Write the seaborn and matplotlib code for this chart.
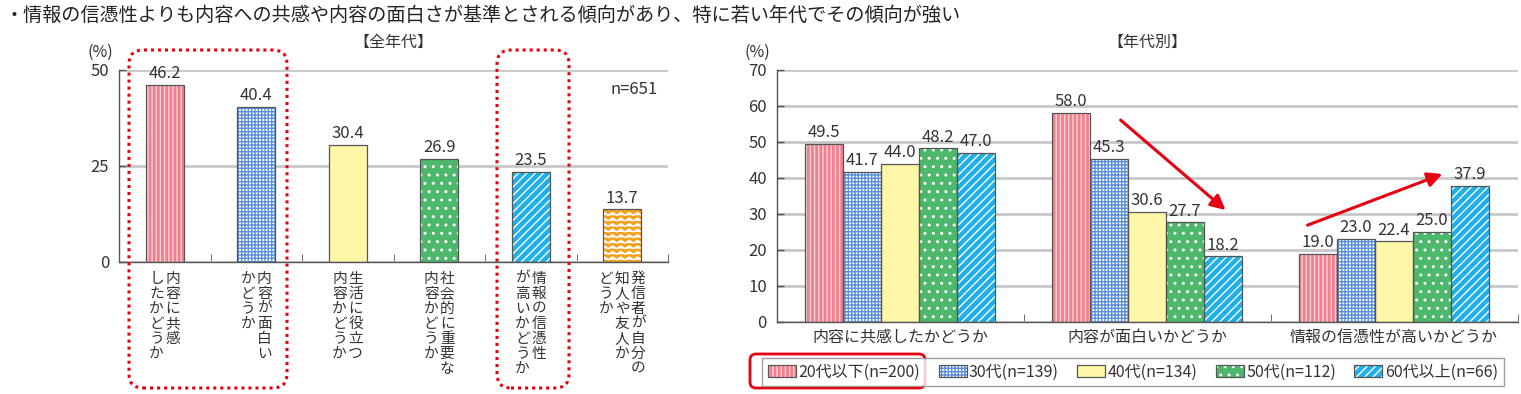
import numpy as np
import pandas as pd
import matplotlib
matplotlib.use("Agg")
import matplotlib.pyplot as plt
import matplotlib.hatch as mhatch
from matplotlib.patches import Rectangle, Patch, FancyBboxPatch
from matplotlib.legend_handler import HandlerTuple
from matplotlib.transforms import blended_transform_factory, offset_copy, IdentityTransform
import seaborn as sns


# --- data -------------------------------------------------------------
title = "・情報の信憑性よりも内容への共感や内容の面白さが基準とされる傾向があり、特に若い年代でその傾向が強い"

# left: all ages (n=651); "\n" separates the vertical text columns (right to left)
all_labels = ["内容に共感\nしたかどうか", "内容が面白い\nかどうか", "生活に役立つ\n内容かどうか",
              "社会的に重要な\n内容かどうか", "情報の信憑性\nが高いかどうか",
              "発信者が自分の\n知人や友人か\nどうか"]
all_values = [46.2, 40.4, 30.4, 26.9, 23.5, 13.7]

# right: by age group
questions = ["内容に共感したかどうか", "内容が面白いかどうか", "情報の信憑性が高いかどうか"]
ages = ["20代以下(n=200)", "30代(n=139)", "40代(n=134)", "50代(n=112)", "60代以上(n=66)"]
v_20s = [49.5, 58.0, 19.0]
v_30s = [41.7, 45.3, 23.0]
v_40s = [44.0, 30.6, 22.4]
v_50s = [48.2, 27.7, 25.0]
v_60s = [47.0, 18.2, 37.9]


# zigzag hatch, used in place of the star pattern ("*")
class Zigzag(mhatch.HatchPatternBase):
    def __init__(self, hatch, density):
        self.num_lines = int(hatch.count('*') * density)
        self.teeth = max(1, self.num_lines * 2 // 3)
        self.num_vertices = self.num_lines * (2 * self.teeth + 1)

    def set_vertices_and_codes(self, vertices, codes):
        n = 2 * self.teeth + 1
        xs = np.linspace(0, 1, n)
        amp = 0.5 / self.num_lines
        for i in range(self.num_lines):
            y0 = (i + 0.25) / self.num_lines
            ys = y0 + amp * (np.arange(n) % 2)
            vertices[i * n:(i + 1) * n, 0] = xs
            vertices[i * n:(i + 1) * n, 1] = ys
            codes[i * n] = matplotlib.path.Path.MOVETO
            codes[i * n + 1:(i + 1) * n] = matplotlib.path.Path.LINETO


mhatch._hatch_types = [h for h in mhatch._hatch_types if h is not mhatch.Stars] + [Zigzag]

# (facecolor, hatch, hatch colour)
styles = [("#f0808d", "||||", "#fcd2d7"),
          ("#ffffff", "+++++", "#5b90d8"),
          ("#fff7a8", None, "#fff7a8"),
          ("#4db86b", "..", "#ffffff"),
          ("#1eb0ea", "////", "#ffffff"),
          ("#f6a11c", "***", "#ffffff")]

red = "#e60012"
ink = "#333333"

sns.set_style("white")
plt.rcParams['font.family'] = ['Noto Sans CJK JP', 'DejaVu Sans']
plt.rcParams['hatch.linewidth'] = 1.0

fig = plt.figure(figsize=(15.21, 3.94), dpi=100)
W, H = 1521, 394
ax1 = fig.add_axes([119 / W, 1 - 262 / H, 549 / W, 192 / H])
ax2 = fig.add_axes([776.5 / W, 1 - 322 / H, 741 / W, 252 / H])


def dress(ax, bar, st):
    fc, hatch, hc = st
    bar.set_facecolor(fc)
    bar.set_edgecolor(hc)
    bar.set_hatch(hatch)
    bar.set_linewidth(0)
    ax.add_patch(Rectangle(bar.get_xy(), bar.get_width(), bar.get_height(),
                           fill=False, ec="#555555", lw=0.9, zorder=bar.get_zorder() + 0.1))


def frame(ax, top, step):
    ax.set_ylim(0, top)
    ax.set_yticks(np.arange(0, top + 1, step))
    ax.set_axisbelow(True)
    ax.yaxis.grid(True, color="#c8c8c8", lw=2)
    ax.xaxis.grid(False)
    for s in ["top", "right"]:
        ax.spines[s].set_visible(False)
    for s in ["left", "bottom"]:
        ax.spines[s].set_color("#555555")
        ax.spines[s].set_linewidth(1)
    ax.tick_params(axis="y", direction="in", length=5, width=1, color="#555555",
                   labelsize=12, labelcolor=ink, pad=7, left=True)
    ax.set_xlabel("")
    ax.set_ylabel("")


# --- left chart -------------------------------------------------------
sns.barplot(x=list(range(len(all_values))), y=all_values, hue=list(range(len(all_values))),
            palette=[s[0] for s in styles], width=0.415, saturation=1, legend=False, ax=ax1)
for cont, st in zip(ax1.containers, styles):
    for bar in cont:
        dress(ax1, bar, st)
    ax1.bar_label(cont, fmt="%.1f", padding=2, fontsize=12, color=ink)
frame(ax1, 50, 25)
ax1.set_xlim(-0.5, len(all_values) - 0.5)
ax1.set_xticks(np.arange(0.5, len(all_values), 1), minor=True)
ax1.tick_params(axis="x", which="minor", direction="in", length=6, color="#555555", bottom=True)
ax1.tick_params(axis="x", which="major", length=0, labelbottom=False)

base = blended_transform_factory(ax1.transData, ax1.transAxes)
for i, lab in enumerate(all_labels):
    cols = lab.split("\n")
    n = len(cols)
    for j, col in enumerate(cols):
        dx = ((n - 1) / 2 - j) * 16
        for k, ch in enumerate(col):
            tr = offset_copy(base, fig=fig, x=dx, y=-(17 + 15 * k), units="dots")
            ax1.text(i, 0, ch, transform=tr, ha="center", va="center", fontsize=10.6, color=ink)

fig.text(393 / W, 1 - 42 / H, "【全年代】", ha="center", va="center", fontsize=11.5, color=ink)
fig.text(100 / W, 1 - 52 / H, "(%)", ha="center", va="center", fontsize=11.5, color=ink)
fig.text(634 / W, 1 - 90 / H, "n=651", ha="center", va="center", fontsize=12, color=ink)

# --- right chart ------------------------------------------------------
df = pd.DataFrame({
    "question": questions * len(ages),
    "age": np.repeat(ages, len(questions)),
    "value": v_20s + v_30s + v_40s + v_50s + v_60s,
})
sns.barplot(data=df, x="question", y="value", hue="age", palette=[s[0] for s in styles[:5]],
            width=0.77, saturation=1, ax=ax2)
ax2.get_legend().remove()
for cont, st in zip(ax2.containers, styles):
    for bar in cont:
        dress(ax2, bar, st)
    ax2.bar_label(cont, fmt="%.1f", padding=2, fontsize=12, color=ink)
frame(ax2, 70, 10)
ax2.set_xlim(-0.5, len(questions) - 0.5)
ax2.set_xticks(np.arange(0.5, len(questions), 1), minor=True)
ax2.tick_params(axis="x", which="minor", direction="in", length=6, color="#555555", bottom=True)
ax2.tick_params(axis="x", which="major", length=0, labelsize=11.5, labelcolor=ink, pad=5)

fig.text(1147 / W, 1 - 42 / H, "【年代別】", ha="center", va="center", fontsize=11.5, color=ink)
fig.text(757 / W, 1 - 52 / H, "(%)", ha="center", va="center", fontsize=11.5, color=ink)

arrow = dict(arrowstyle="-|>", color=red, lw=2.2, mutation_scale=22, shrinkA=0, shrinkB=0)
ax2.annotate("", xy=(1.318, 31.1), xytext=(0.893, 56.1), arrowprops=arrow)
ax2.annotate("", xy=(2.196, 41.1), xytext=(1.650, 26.9), arrowprops=arrow)

handles = [(Patch(fc=s[0], ec=s[2], hatch=s[1], lw=0), Patch(fill=False, ec="#555555", lw=0.9))
           for s in styles[:5]]
fig.legend(handles, ages, handler_map={tuple: HandlerTuple(ndivide=1, pad=0)},
           loc="center", bbox_to_anchor=(1133 / W, 1 - 372 / H), ncol=5, fontsize=11.5,
           frameon=True, fancybox=False, edgecolor="#888888", handlelength=1.75, handleheight=0.8,
           handletextpad=0.15, columnspacing=1.15, borderpad=0.35, labelcolor=ink)

# --- highlight boxes (pixel coordinates) ------------------------------
px = IdentityTransform()
for x0, x1 in [(129, 287), (497, 569)]:
    fig.add_artist(FancyBboxPatch((x0, H - 388), x1 - x0, 338, boxstyle="round,pad=0,rounding_size=14",
                                  fill=False, ec=red, lw=2.2, ls=(0, (1, 1.3)), transform=px))
fig.add_artist(FancyBboxPatch((750, H - 388), 175, 34, boxstyle="round,pad=0,rounding_size=6",
                              fill=False, ec=red, lw=2, transform=px))

fig.text(5 / W, 1 - 15 / H, title, ha="left", va="center", fontsize=13.8, color="#222222")

fig.savefig("out.png", dpi=100)
